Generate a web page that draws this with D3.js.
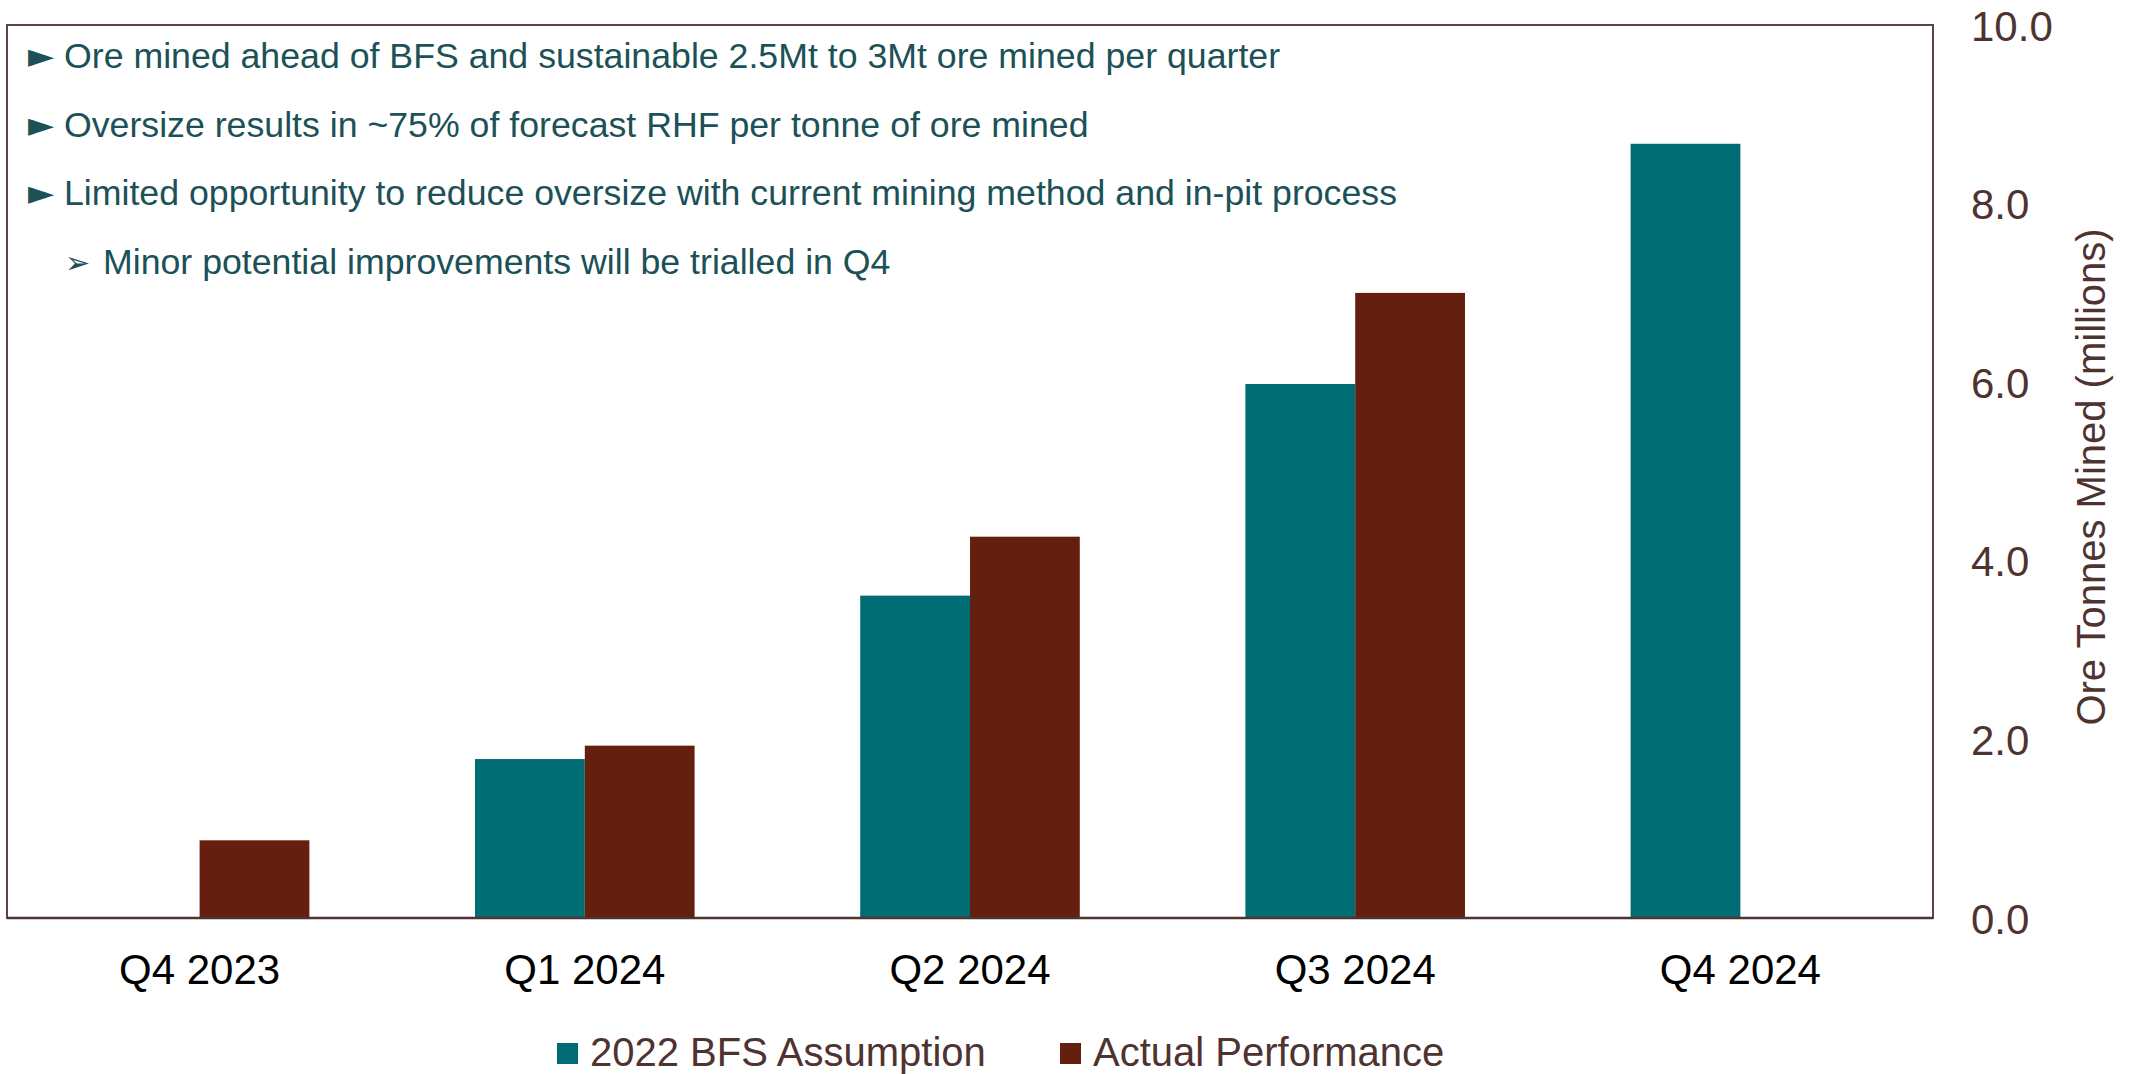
<!DOCTYPE html>
<html>
<head>
<meta charset="utf-8">
<script src="https://cdn.jsdelivr.net/npm/d3@7"></script>
<style>
  body { margin: 0; background: #ffffff; }
  svg { display: block; }
</style>
</head>
<body>
<div id="chart"></div>
<script>
/* data */
var quarters = ["Q4 2023", "Q1 2024", "Q2 2024", "Q3 2024", "Q4 2024"];
var series_names = ["2022 BFS Assumption", "Actual Performance"];
var bfs_values = [null, 1.78, 3.61, 5.98, 8.67];
var actual_values = [0.87, 1.93, 4.27, 7.00, null];
var y_ticks = [0, 2, 4, 6, 8, 10];
var notes = [
	{ mark: "\u25BA", text: "Ore mined ahead of BFS and sustainable 2.5Mt to 3Mt ore mined per quarter", level: 0 },
	{ mark: "\u25BA", text: "Oversize results in ~75% of forecast RHF per tonne of ore mined", level: 0 },
	{ mark: "\u25BA", text: "Limited opportunity to reduce oversize with current mining method and in-pit process", level: 0 },
	{ mark: "\u27A2", text: "Minor potential improvements will be trialled in Q4", level: 1 }
];

var width = 2136, height = 1074;
var plot = { left: 7, top: 25, right: 1933, bottom: 918 };

var teal = "#006c73";
var brown = "#641f0e";
var axis_brown = "#4e3330";
var note_color = "#1b5157";
var font = "'Liberation Sans', Arial, sans-serif";

var svg = d3.select("#chart").append("svg")
	.attr("width", width)
	.attr("height", height);

var x = d3.scaleBand()
	.domain(quarters)
	.range([plot.left, plot.right])
	.paddingInner(0.43)
	.paddingOuter(0.215);

var x_inner = d3.scaleBand()
	.domain(series_names)
	.range([0, x.bandwidth()]);

var y = d3.scaleLinear()
	.domain([0, 10])
	.range([plot.bottom, plot.top]);

/* bars */
var rows = quarters.map(function(q, i) {
	return [
		{ q: q, s: series_names[0], v: bfs_values[i] },
		{ q: q, s: series_names[1], v: actual_values[i] }
	];
});
var colors = d3.scaleOrdinal().domain(series_names).range([teal, brown]);

svg.selectAll(".group")
	.data(rows)
  .enter().append("g")
	.attr("class", "group")
	.attr("transform", function(d) { return "translate(" + x(d[0].q) + ",0)"; })
  .selectAll("rect")
	.data(function(d) { return d.filter(function(b) { return b.v !== null; }); })
  .enter().append("rect")
	.attr("x", function(d) { return x_inner(d.s); })
	.attr("width", x_inner.bandwidth())
	.attr("y", function(d) { return y(d.v); })
	.attr("height", function(d) { return y(0) - y(d.v); })
	.attr("fill", function(d) { return colors(d.s); });

/* plot frame */
svg.append("rect")
	.attr("x", plot.left)
	.attr("y", plot.top)
	.attr("width", plot.right - plot.left)
	.attr("height", plot.bottom - plot.top)
	.attr("fill", "none")
	.attr("stroke", "#5b4541")
	.attr("stroke-width", 2);

svg.append("line")
	.attr("x1", plot.left).attr("x2", plot.right)
	.attr("y1", plot.bottom).attr("y2", plot.bottom)
	.attr("stroke", axis_brown)
	.attr("stroke-width", 2.5);

/* right value axis */
var y_axis = svg.append("g")
	.attr("transform", "translate(" + (plot.right + 38) + ",0)")
	.call(d3.axisRight(y).tickValues(y_ticks).tickSize(0).tickPadding(0)
		.tickFormat(d3.format(".1f")));
y_axis.select(".domain").remove();
y_axis.selectAll("text")
	.attr("fill", axis_brown)
	.attr("font-family", font)
	.attr("font-size", 42)
	.attr("dy", "0.36em");

svg.append("text")
	.attr("transform", "translate(2105,477) rotate(-90)")
	.attr("text-anchor", "middle")
	.attr("fill", axis_brown)
	.attr("font-family", font)
	.attr("font-size", 40)
	.text("Ore Tonnes Mined (millions)");

/* category axis */
var x_axis = svg.append("g")
	.attr("transform", "translate(0," + plot.bottom + ")")
	.call(d3.axisBottom(x).tickSize(0).tickPadding(0));
x_axis.select(".domain").remove();
x_axis.selectAll("text")
	.attr("fill", "#000000")
	.attr("font-family", font)
	.attr("font-size", 42)
	.attr("y", 66)
	.attr("dy", 0);

/* legend */
var legend_x = [557, 1060];
var legend = svg.selectAll(".legend")
	.data(series_names)
  .enter().append("g")
	.attr("class", "legend")
	.attr("transform", function(d, i) { return "translate(" + legend_x[i] + ",1043)"; });
legend.append("rect")
	.attr("width", 21).attr("height", 21)
	.attr("fill", function(d) { return colors(d); });
legend.append("text")
	.attr("x", 33)
	.attr("y", 23)
	.attr("fill", axis_brown)
	.attr("font-family", font)
	.attr("font-size", 40)
	.text(function(d) { return d; });

/* notes inside the plot */
var note = svg.selectAll(".note")
	.data(notes)
  .enter().append("g")
	.attr("class", "note")
	.attr("transform", function(d, i) { return "translate(0," + (68 + i * 68.7) + ")"; });
note.append("text")
	.attr("x", function(d) { return d.level ? 65 : 28; })
	.attr("fill", note_color)
	.attr("font-family", "'DejaVu Sans', sans-serif")
	.attr("font-size", function(d) { return d.level ? 30 : 34; })
	.attr("dy", -1)
	.text(function(d) { return d.mark; });
note.append("text")
	.attr("x", function(d) { return d.level ? 103 : 64; })
	.attr("fill", note_color)
	.attr("font-family", font)
	.attr("font-size", 35.7)
	.text(function(d) { return d.text; });
</script>
</body>
</html>
